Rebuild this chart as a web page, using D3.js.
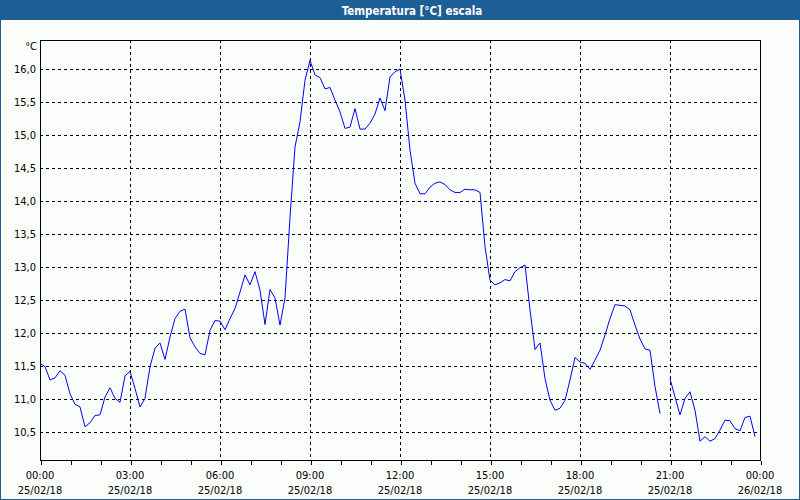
<!DOCTYPE html>
<html><head><meta charset="utf-8">
<script src="https://cdn.jsdelivr.net/npm/d3@7"></script>
<style>
html,body{margin:0;padding:0;background:#fff;}
svg{display:block;}
</style></head>
<body>
<svg id="chart" width="800" height="500"></svg>
<script>
const title = "Temperatura [°C] escala";
const unitLabel = "°C";
// 10-minute readings from 25/02/18 00:00 to 23:50 (null = missing)
const temps = [
 11.54,11.49,11.29,11.32,11.43,11.36,11.08,10.92,10.88,10.58,10.64,10.75,
 10.76,11.03,11.17,11.01,10.95,11.35,11.42,11.16,10.88,11.01,11.49,11.77,
 11.85,11.60,11.94,12.22,12.33,12.36,11.93,11.79,11.69,11.67,12.04,12.19,
 12.18,12.05,12.22,12.37,12.62,12.88,12.73,12.93,12.65,12.13,12.66,12.53,
 12.12,12.53,13.75,14.82,15.20,15.83,16.13,15.91,15.87,15.70,15.72,15.53,
 15.35,15.10,15.12,15.40,15.09,15.09,15.18,15.32,15.56,15.37,15.88,15.96,
 16.00,15.53,14.77,14.27,14.11,14.11,14.21,14.27,14.29,14.25,14.17,14.13,
 14.13,14.18,14.17,14.17,14.13,13.31,12.80,12.73,12.76,12.81,12.79,12.93,
 12.99,13.03,12.35,11.75,11.85,11.31,10.98,10.83,10.86,10.98,11.29,11.63,
 11.56,11.54,11.45,11.59,11.74,11.97,12.22,12.43,12.42,12.41,12.35,12.12,
 11.91,11.76,11.74,11.19,10.78,null,11.31,11.03,10.76,11.01,11.11,10.83,
 10.36,10.43,10.36,10.40,10.53,10.68,10.67,10.55,10.52,10.72,10.74,10.43
];
const stepMinutes = 10;
const startTime = new Date(2018, 1, 25, 0, 0);
const endTime = new Date(2018, 1, 26, 0, 0);
const yTicks = [10.5,11.0,11.5,12.0,12.5,13.0,13.5,14.0,14.5,15.0,15.5,16.0];
const yDomain = [10.076, 16.44];

const data = temps.map((v,i)=>({t:new Date(startTime.getTime()+i*stepMinutes*60000), v}));

const svg = d3.select("#chart");
const W=800,H=500;
const m={l:40,r:40,t:40,b:40};
const blue="#1d5e96";
const font="'DejaVu Sans Condensed','DejaVu Sans',sans-serif";

svg.append("rect").attr("x",0).attr("y",0).attr("width",W).attr("height",H).attr("fill","#fbfdfb");
svg.append("rect").attr("x",0).attr("y",0).attr("width",W).attr("height",20).attr("fill",blue);
svg.append("rect").attr("x",0.5).attr("y",0.5).attr("width",W-1).attr("height",H-1)
  .attr("fill","none").attr("stroke",blue).attr("stroke-width",1);
svg.append("text").attr("x",412).attr("y",14.5).attr("text-anchor","middle")
  .attr("fill","#fff").attr("font-family",font).attr("font-weight","bold").attr("font-size",11.5)
  .text(title);

const x=d3.scaleTime().domain([startTime,endTime]).range([m.l,W-m.r]);
const y=d3.scaleLinear().domain(yDomain).range([H-m.b,m.t]);

const g=svg.append("g");
// horizontal grid
g.selectAll("line.hg").data(yTicks).join("line").attr("class","hg")
  .attr("x1",m.l).attr("x2",W-m.r)
  .attr("y1",d=>Math.round(y(d))+0.5).attr("y2",d=>Math.round(y(d))+0.5)
  .attr("stroke","#000").attr("stroke-dasharray","3,3").attr("shape-rendering","crispEdges");
// vertical grid
const majorTimes=d3.timeHour.every(3).range(startTime,d3.timeMinute.offset(endTime,1));
g.selectAll("line.vg").data(majorTimes.slice(1,-1)).join("line").attr("class","vg")
  .attr("x1",d=>Math.round(x(d))+0.5).attr("x2",d=>Math.round(x(d))+0.5)
  .attr("y1",m.t).attr("y2",H-m.b)
  .attr("stroke","#000").attr("stroke-dasharray","3,3").attr("shape-rendering","crispEdges");

// frame
svg.append("rect").attr("x",m.l+0.5).attr("y",m.t+0.5).attr("width",W-m.l-m.r).attr("height",H-m.t-m.b)
  .attr("fill","none").attr("stroke","#000").attr("shape-rendering","crispEdges");

// x axis ticks (hourly)
const xAxis=d3.axisBottom(x).ticks(d3.timeHour.every(1)).tickSize(4).tickFormat("");
const xa=svg.append("g").attr("transform",`translate(0.5,${H-m.b+0.5})`).call(xAxis);
xa.select(".domain").remove();
xa.selectAll("line").attr("stroke","#000").attr("shape-rendering","crispEdges");

// x labels (two lines)
const fTime=d3.timeFormat("%H:%M"), fDate=d3.timeFormat("%d/%m/%y");
const xl=svg.append("g");
xl.selectAll("text.t").data(majorTimes).join("text").attr("class","t")
  .attr("x",d=>x(d)).attr("y",479).attr("text-anchor","middle")
  .attr("font-family",font).attr("font-size",11).attr("fill","#000").text(fTime);
xl.selectAll("text.d").data(majorTimes).join("text").attr("class","d")
  .attr("x",d=>x(d)).attr("y",494).attr("text-anchor","middle")
  .attr("font-family",font).attr("font-size",11).attr("fill","#000").text(fDate);

// y labels
const fY=v=>d3.format(".1f")(v).replace(".",",");
const yAxis=d3.axisLeft(y).tickValues(yTicks).tickSize(0).tickPadding(4).tickFormat(fY);
const ya=svg.append("g").attr("transform",`translate(${m.l},0)`).call(yAxis);
ya.select(".domain").remove();
ya.selectAll("text").attr("font-family",font).attr("font-size",11).attr("fill","#000");
svg.append("text").attr("x",37).attr("y",50).attr("text-anchor","end")
  .attr("font-family",font).attr("font-size",11).attr("fill","#000").text(unitLabel);

// line
const line=d3.line().defined(d=>d.v!=null).x(d=>x(d.t)).y(d=>y(d.v));
svg.append("path").datum(data).attr("d",line).attr("fill","none")
  .attr("stroke","#0000ff").attr("stroke-width",1);
</script>
</body></html>
